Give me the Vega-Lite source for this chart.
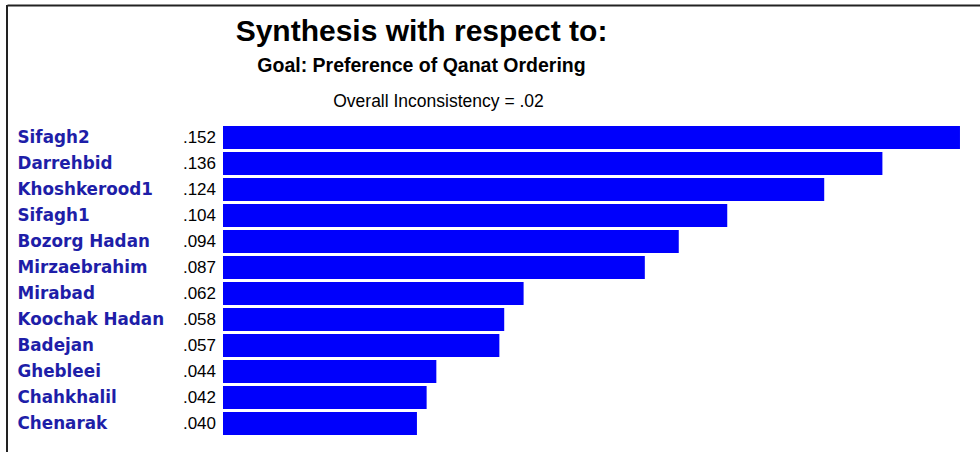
{
  "$schema": "https://vega.github.io/schema/vega-lite/v6.json",
  "autosize": "none",
  "padding": {"left": 7, "top": 5, "right": 0, "bottom": 0},
  "width": 973,
  "height": 447,
  "background": "white",
  "title": {
    "text": "Synthesis with respect to:",
    "subtitle": "Goal: Preference of Qanat Ordering",
    "anchor": "middle",
    "orient": "top",
    "frame": "group",
    "dx": -72,
    "offset": -71,
    "font": "Liberation Sans",
    "fontSize": 30,
    "fontWeight": "bold",
    "color": "#000000",
    "subtitleFont": "Liberation Sans",
    "subtitleFontSize": 19.5,
    "subtitleFontWeight": "bold",
    "subtitleColor": "#000000",
    "subtitlePadding": 10
  },
  "data": {
    "values": [
      {"name": "Sifagh2", "v": 0.152},
      {"name": "Darrehbid", "v": 0.136},
      {"name": "Khoshkerood1", "v": 0.124},
      {"name": "Sifagh1", "v": 0.104},
      {"name": "Bozorg Hadan", "v": 0.094},
      {"name": "Mirzaebrahim", "v": 0.087},
      {"name": "Mirabad", "v": 0.062},
      {"name": "Koochak Hadan", "v": 0.058},
      {"name": "Badejan", "v": 0.057},
      {"name": "Ghebleei", "v": 0.044},
      {"name": "Chahkhalil", "v": 0.042},
      {"name": "Chenarak", "v": 0.040}
    ]
  },
  "transform": [
    {"calculate": "replace(format(datum.v, '.3f'), '0.', '.')", "as": "lbl"}
  ],
  "layer": [
    {
      "mark": {"type": "bar", "color": "#0000fc"},
      "encoding": {
        "y": {
          "field": "name",
          "type": "nominal",
          "sort": null,
          "scale": {"range": [119.5, 431.5], "paddingInner": 0.1154, "paddingOuter": 0.0577, "round": false},
          "axis": {
            "orient": "left",
            "title": null,
            "domain": false,
            "ticks": false,
            "tickSize": 0,
            "labelPadding": -10,
            "labelAlign": "left",
            "labelBaseline": "middle",
            "labelFont": "DejaVu Sans",
            "labelFontWeight": "bold",
            "labelFontSize": 16.8,
            "labelColor": "#1e1ea8",
            "labelLimit": 300,
            "labelOverlap": false,
            "grid": false
          }
        },
        "x": {
          "field": "v",
          "type": "quantitative",
          "scale": {"domain": [-0.04455, 0.15613], "nice": false, "zero": false},
          "axis": {
            "orient": "top",
            "values": [-0.04455],
            "domain": true,
            "domainColor": "#222222",
            "domainWidth": 2,
            "labels": false,
            "ticks": false,
            "grid": false,
            "title": "Overall Inconsistency = .02",
            "titleFont": "Liberation Sans",
            "titleFontWeight": "normal",
            "titleFontSize": 17.5,
            "titleColor": "#000000",
            "titleX": 431,
            "titleY": 101,
            "titleAlign": "center",
            "titleBaseline": "alphabetic",
            "titleAnchor": null
          }
        }
      }
    },
    {
      "mark": {
        "type": "text",
        "align": "right",
        "baseline": "middle",
        "dx": -7,
        "font": "Liberation Sans",
        "fontSize": 17,
        "color": "#000000"
      },
      "encoding": {
        "y": {"field": "name", "type": "nominal", "sort": null},
        "x": {"datum": 0, "type": "quantitative"},
        "text": {"field": "lbl"}
      }
    },
    {
      "mark": {"type": "rule", "color": "#222222", "strokeWidth": 2},
      "encoding": {
        "x": {"datum": -0.04455, "type": "quantitative"}
      }
    }
  ],
  "config": {
    "view": {"stroke": null}
  }
}
